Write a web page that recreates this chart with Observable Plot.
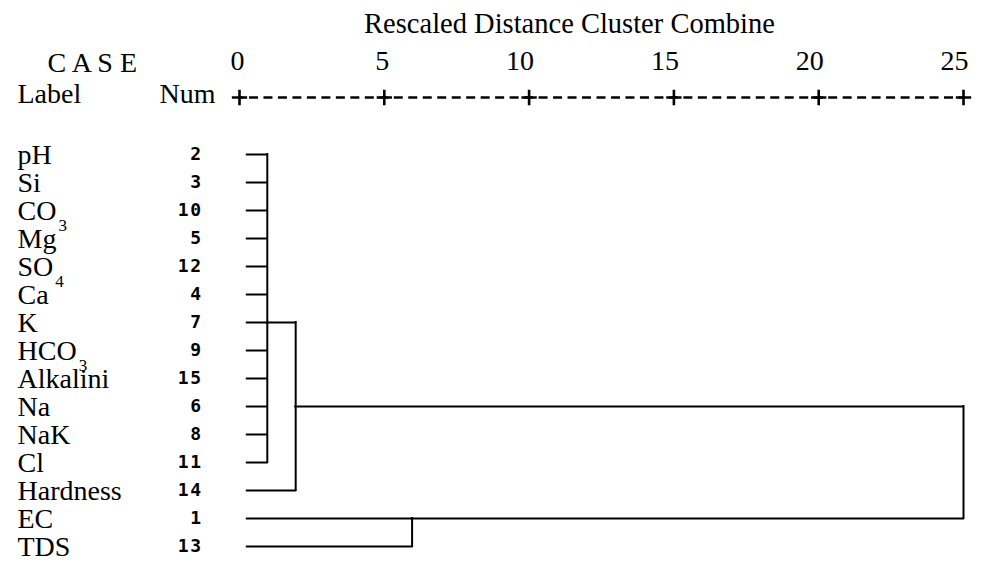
<!DOCTYPE html>
<html>
<head>
<meta charset="utf-8">
<script src="https://cdn.jsdelivr.net/npm/d3@7"></script>
<script src="https://cdn.jsdelivr.net/npm/@observablehq/plot@0.6"></script>
<style>
  html, body { margin: 0; padding: 0; background: #fff; }
  #chart { width: 982px; height: 566px; }
</style>
</head>
<body>
<div id="chart"></div>
<script>
// ---- data ----
const caseLabels = ["pH", "Si", "CO3", "Mg", "SO4", "Ca", "K", "HCO3", "Alkalini", "Na", "NaK", "Cl", "Hardness", "EC", "TDS"];
const caseNums = [2, 3, 10, 5, 12, 4, 7, 9, 15, 6, 8, 11, 14, 1, 13];
const axisTicks = [0, 5, 10, 15, 20, 25];
const titleText = "Rescaled Distance Cluster Combine";
const headerCase = "C A S E";
const headerLabel = "Label";
const headerNum = "Num";

// leaves start here on the rescaled-distance axis
const leafStart = 0.27;
// clusters: children (L = leaf row index, C = cluster index), joining distance, row used for the outgoing line
const clusterChildren = [
  ["L0", "L1", "L2", "L3", "L4", "L5", "L6", "L7", "L8", "L9", "L10", "L11"],
  ["C0", "L12"],
  ["L13", "L14"],
  ["C1", "C2"]
];
const clusterHeights = [0.96, 1.94, 5.96, 25];
const clusterAnchorRows = [6, 9, 13, 11];

// ---- derived segments ----
const heightOf = id => id[0] === "L" ? leafStart : clusterHeights[+id.slice(1)];
const rowOf = id => id[0] === "L" ? +id.slice(1) : clusterAnchorRows[+id.slice(1)];
const hSegs = [];
const vSegs = [];
clusterChildren.forEach((kids, k) => {
  const h = clusterHeights[k];
  const rows = kids.map(rowOf);
  kids.forEach(id => hSegs.push({x1: heightOf(id), x2: h, y: caseLabels[rowOf(id)]}));
  vSegs.push({x: h, y1: caseLabels[d3.min(rows)], y2: caseLabels[d3.max(rows)]});
});
const rows = caseLabels.map((label, i) => ({label, num: caseNums[i]}));

const serif = "'Liberation Serif', 'Times New Roman', serif";
const mono = "'DejaVu Sans Mono', monospace";

const chart = Plot.plot({
  width: 982,
  height: 566,
  marginLeft: 239,
  marginRight: 19,
  marginTop: 149,
  marginBottom: 15,
  style: {fontFamily: serif, background: "#fff", overflow: "visible"},
  x: {domain: [0, 25], axis: null},
  y: {type: "point", domain: caseLabels, padding: 0, axis: null},
  marks: [
    // dendrogram
    Plot.ruleY(hSegs, {x1: "x1", x2: "x2", y: "y", stroke: "#000", strokeWidth: 2, strokeLinecap: "square"}),
    Plot.ruleX(vSegs, {x: "x", y1: "y1", y2: "y2", stroke: "#000", strokeWidth: 2, strokeLinecap: "square"}),
    // case labels and numbers
    Plot.text(rows, {y: "label", text: "label", frameAnchor: "left", dx: -222, dy: 1, textAnchor: "start",
      fontFamily: serif, fontSize: 28, fill: "#000"}),
    Plot.text(rows, {y: "label", text: d => String(d.num), frameAnchor: "left", dx: -37, textAnchor: "end",
      fontFamily: mono, fontSize: 18, fontWeight: "bold", fill: "#000"}),
    // top scale: dashed line with plus signs
    Plot.ruleY([caseLabels[0]], {x1: axisTicks[0], x2: axisTicks[axisTicks.length - 1], y: d => d, dy: -57,
      stroke: "#000", strokeWidth: 2.5, strokeDasharray: "9,5.48", strokeDashoffset: 4.5}),
    Plot.dot(axisTicks, {x: d => d, y: () => caseLabels[0], dy: -57, symbol: "plus", r: 5,
      stroke: "#000", strokeWidth: 2.6}),
    Plot.text(axisTicks, {x: d => d, text: d => String(d), frameAnchor: "top", dy: -80, dx: 5,
      textAnchor: "end", lineAnchor: "bottom", fontFamily: serif, fontSize: 28, fill: "#000"}),
    // header texts
    Plot.text([titleText], {frameAnchor: "top-left", dx: 330, dy: -117, textAnchor: "middle", lineAnchor: "bottom",
      fontFamily: serif, fontSize: 28.5, fill: "#000"}),
    Plot.text([headerCase], {frameAnchor: "top-left", dx: -192, dy: -78, textAnchor: "start", lineAnchor: "bottom",
      fontFamily: serif, fontSize: 28, fill: "#000"}),
    Plot.text([headerLabel], {frameAnchor: "top-left", dx: -222, dy: -47, textAnchor: "start", lineAnchor: "bottom",
      fontFamily: serif, fontSize: 28, fill: "#000"}),
    Plot.text([headerNum], {frameAnchor: "top-left", dx: -24, dy: -47, textAnchor: "end", lineAnchor: "bottom",
      fontFamily: serif, fontSize: 28, fill: "#000"})
  ]
});

// chemical-formula subscripts (CO3, SO4, HCO3) and number spacing
const labelSet = new Set(caseLabels);
d3.select(chart).selectAll("text").each(function () {
  const t = this.textContent;
  if (labelSet.has(t)) {
    const m = /^([A-Za-z]+)(\d)$/.exec(t);
    if (m) {
      const el = d3.select(this);
      el.text(m[1]);
      el.append("tspan").attr("dx", 2).attr("dy", 11).attr("font-size", 17).text(m[2]);
    }
  }
});
d3.select(chart).selectAll("g[font-family*='Mono'] text").attr("letter-spacing", 1.5);

document.getElementById("chart").appendChild(chart);
</script>
</body>
</html>
